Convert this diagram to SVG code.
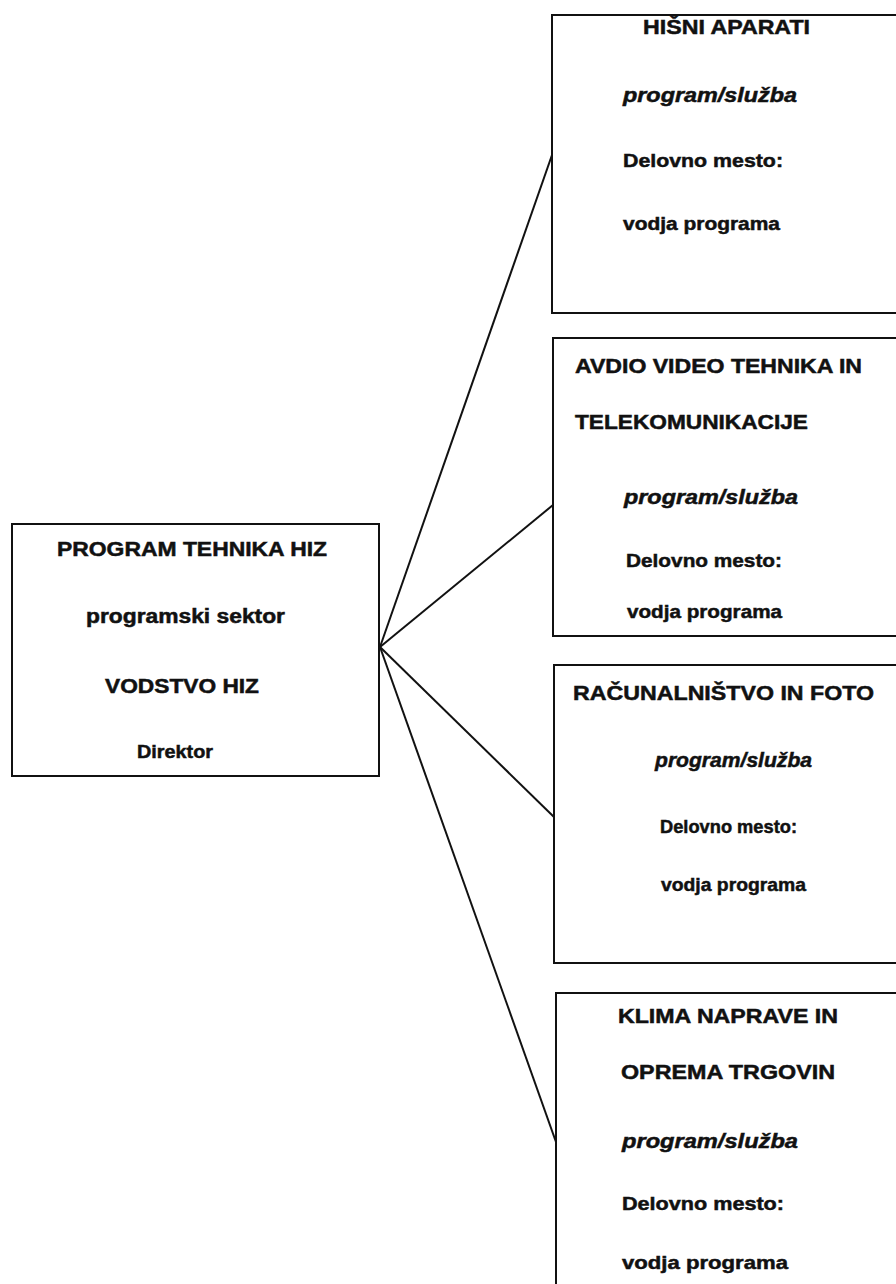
<svg xmlns="http://www.w3.org/2000/svg" width="896" height="1284" viewBox="0 0 896 1284">
<style>
.box{fill:#fff;stroke:#111;stroke-width:2}
.con{stroke:#111;stroke-width:2;fill:none}
text{font-family:"Liberation Sans",Arial,sans-serif;font-weight:bold;fill:#111;stroke:#111;stroke-width:0.5}
.h{font-size:20px}
.s{font-size:19px}
.i{font-size:20px;font-style:italic}
</style>
<rect x="0" y="0" width="896" height="1284" fill="#fff"/>
<g id="connectors">
<line class="con" x1="380" y1="647" x2="552" y2="155"/>
<line class="con" x1="380" y1="647" x2="553" y2="505"/>
<line class="con" x1="380" y1="647" x2="554" y2="817"/>
<line class="con" x1="380" y1="647" x2="556" y2="1142"/>
</g>
<g id="node-root">
<rect class="box" x="12" y="524" width="367" height="252"/>
<text class="h" x="57" y="556" textLength="270" lengthAdjust="spacingAndGlyphs">PROGRAM TEHNIKA HIZ</text>
<text class="h" x="86" y="623" textLength="199" lengthAdjust="spacingAndGlyphs">programski sektor</text>
<text class="h" x="105" y="693" textLength="154" lengthAdjust="spacingAndGlyphs">VODSTVO HIZ</text>
<text class="s" x="137" y="758" textLength="76" lengthAdjust="spacingAndGlyphs">Direktor</text>
</g>
<g id="node-hisni">
<rect class="box" x="552" y="15" width="360" height="298"/>
<text class="h" x="643" y="34" textLength="167" lengthAdjust="spacingAndGlyphs">HIŠNI APARATI</text>
<text class="i" x="623" y="102" textLength="174" lengthAdjust="spacingAndGlyphs">program/služba</text>
<text class="s" x="623" y="167" textLength="160" lengthAdjust="spacingAndGlyphs">Delovno mesto:</text>
<text class="s" x="623" y="230" textLength="157" lengthAdjust="spacingAndGlyphs">vodja programa</text>
</g>
<g id="node-avdio">
<rect class="box" x="553" y="338" width="360" height="298"/>
<text class="h" x="575" y="373" textLength="287" lengthAdjust="spacingAndGlyphs">AVDIO VIDEO TEHNIKA IN</text>
<text class="h" x="575" y="429" textLength="233" lengthAdjust="spacingAndGlyphs">TELEKOMUNIKACIJE</text>
<text class="i" x="624" y="504" textLength="174" lengthAdjust="spacingAndGlyphs">program/služba</text>
<text class="s" x="626" y="567" textLength="156" lengthAdjust="spacingAndGlyphs">Delovno mesto:</text>
<text class="s" x="627" y="618" textLength="155" lengthAdjust="spacingAndGlyphs">vodja programa</text>
</g>
<g id="node-racunalnistvo">
<rect class="box" x="554" y="665" width="360" height="298"/>
<text class="h" x="573" y="700" textLength="301" lengthAdjust="spacingAndGlyphs">RAČUNALNIŠTVO IN FOTO</text>
<text class="i" x="655" y="767" textLength="157" lengthAdjust="spacingAndGlyphs">program/služba</text>
<text class="s" x="660" y="833" textLength="137" lengthAdjust="spacingAndGlyphs">Delovno mesto:</text>
<text class="s" x="661" y="891" textLength="145" lengthAdjust="spacingAndGlyphs">vodja programa</text>
</g>
<g id="node-klima">
<rect class="box" x="556" y="993" width="360" height="320"/>
<text class="h" x="618" y="1023" textLength="220" lengthAdjust="spacingAndGlyphs">KLIMA NAPRAVE IN</text>
<text class="h" x="621" y="1079" textLength="214" lengthAdjust="spacingAndGlyphs">OPREMA TRGOVIN</text>
<text class="i" x="622" y="1148" textLength="176" lengthAdjust="spacingAndGlyphs">program/služba</text>
<text class="s" x="622" y="1210" textLength="162" lengthAdjust="spacingAndGlyphs">Delovno mesto:</text>
<text class="s" x="622" y="1269" textLength="166" lengthAdjust="spacingAndGlyphs">vodja programa</text>
</g>
</svg>
